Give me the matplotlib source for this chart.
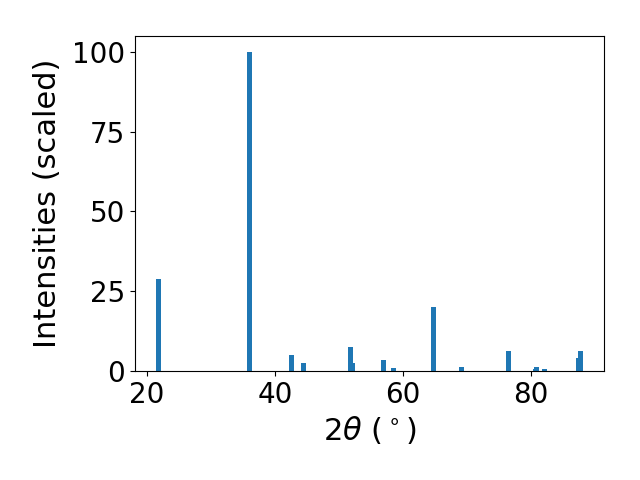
import matplotlib
matplotlib.use("Agg")
import matplotlib.pyplot as plt

# peak positions (2theta, degrees) and scaled intensities
two_theta = [21.85, 36.04, 42.55, 44.48, 51.80, 52.08, 56.98, 58.55, 64.82,
             69.21, 76.50, 80.66, 80.81, 82.07, 87.40, 87.71]
intensities = [28.9, 100.0, 5.0, 2.5, 7.5, 2.5, 3.45, 0.94, 20.1,
               1.25, 6.3, 0.6, 1.25, 0.6, 4.1, 6.3]
y_ticks = [0, 25, 50, 75, 100]

plt.rcParams["font.size"] = 20

fig, ax = plt.subplots(figsize=(6.4, 4.8), dpi=100)
ax.bar(two_theta, intensities)
ax.set_yticks(y_ticks)
ax.set_xlabel(r"$2\theta$ ($^\circ$)", fontsize=22)
ax.set_ylabel("Intensities (scaled)", fontsize=22, labelpad=7.5)

fig.subplots_adjust(left=0.211, right=0.944, bottom=0.227, top=0.925)
plt.savefig("out.png")
